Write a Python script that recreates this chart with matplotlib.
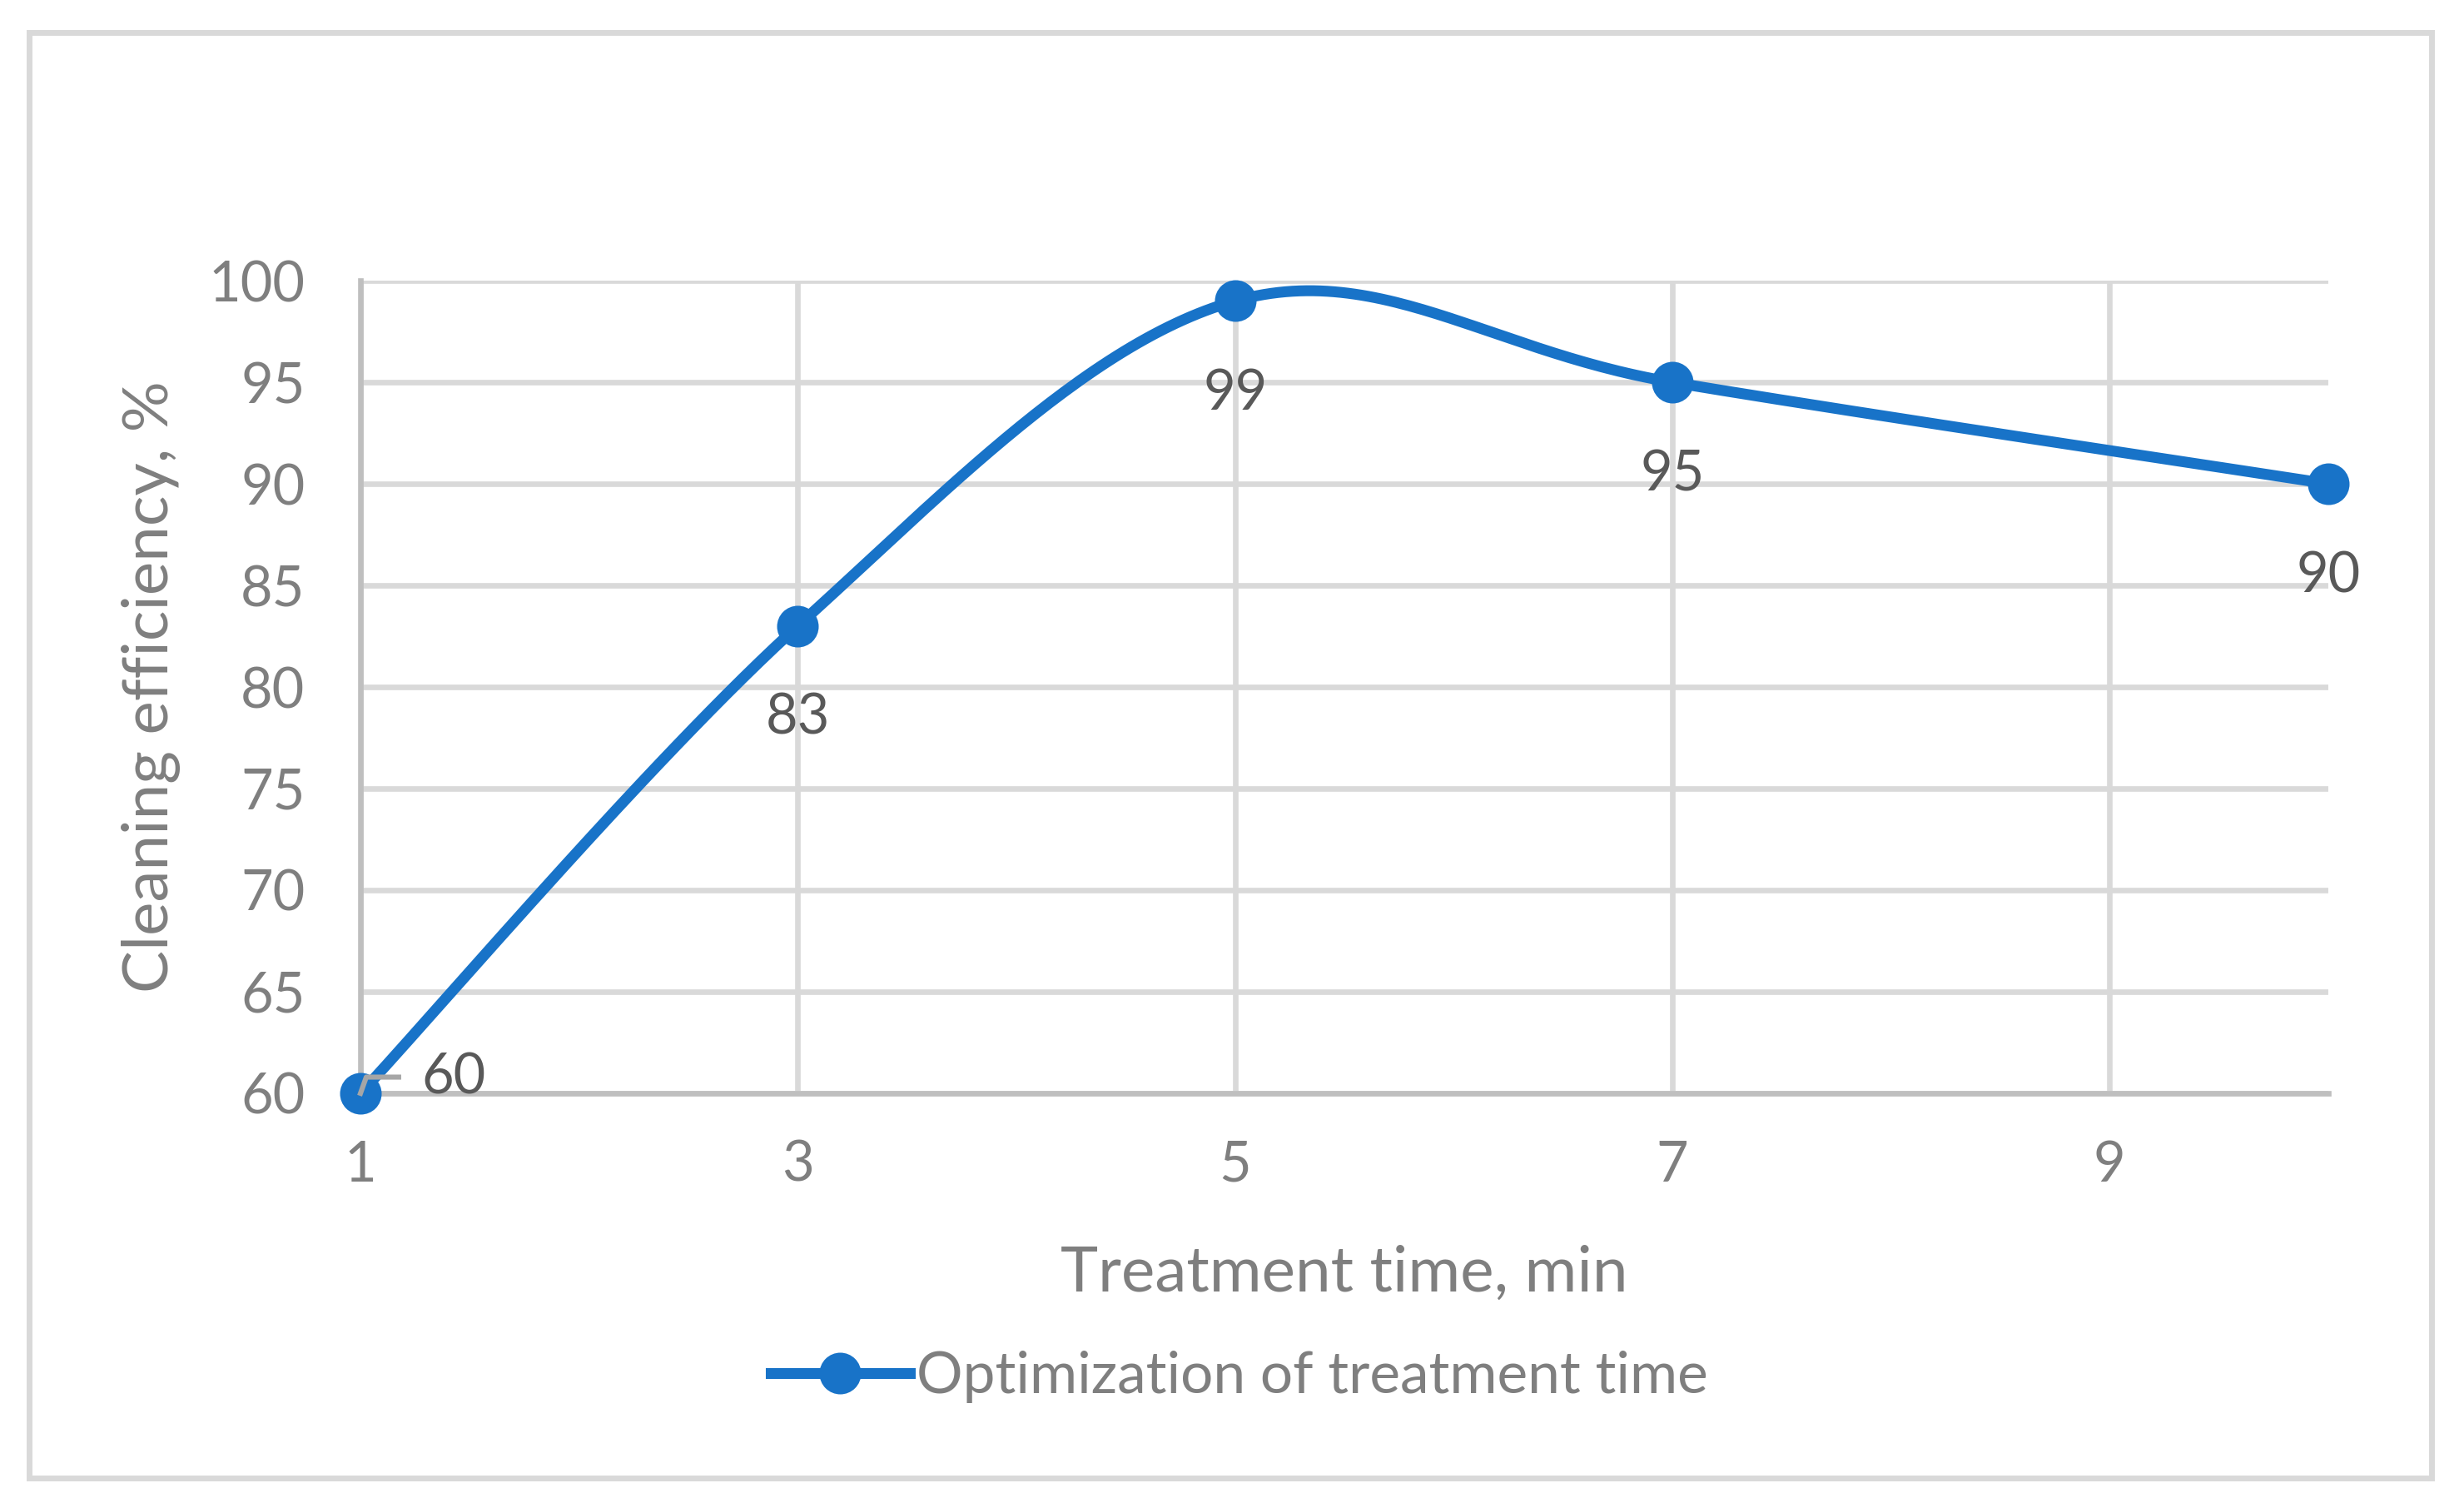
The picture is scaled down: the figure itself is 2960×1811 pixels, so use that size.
import numpy as np
import matplotlib
matplotlib.use("Agg")
import matplotlib.pyplot as plt
from matplotlib.patches import Rectangle
from matplotlib.lines import Line2D
import matplotlib.transforms as mtransforms

plt.rcParams['font.family'] = ['Lato', 'DejaVu Sans']

# ---- data ----
time_min = [1, 3, 5, 7, 10]
efficiency = [60, 83, 99, 95, 90]
x_ticks = [1, 3, 5, 7, 9]
y_ticks = [60, 65, 70, 75, 80, 85, 90, 95, 100]
series_name = "Optimization of treatment time"
x_title = "Treatment time, min"
y_title = "Cleaning efficiency, %"

BLUE = "#1873C8"
GRID = "#d9d9d9"
AXIS = "#bfbfbf"
TXT = "#7f7f7f"
LBL = "#595959"

def smooth_curve(xs, ys, per_seg=60):
    P = np.column_stack([xs, ys]).astype(float)
    n = len(P)
    out = []
    for i in range(n - 1):
        prev = P[i - 1] if i > 0 else P[i]
        nxt = P[i + 2] if i + 2 < n else P[i + 1]
        c1 = P[i] + (P[i + 1] - prev) / 6.0
        c2 = P[i + 1] - (nxt - P[i]) / 6.0
        t = np.linspace(0, 1, per_seg)[:, None]
        seg = ((1 - t) ** 3) * P[i] + 3 * t * (1 - t) ** 2 * c1 + 3 * t ** 2 * (1 - t) * c2 + t ** 3 * P[i + 1]
        out.append(seg if i == 0 else seg[1:])
    c = np.vstack(out)
    return c[:, 0], c[:, 1]

fig = plt.figure(figsize=(14.8, 9.055), dpi=200)
ax = fig.add_axes([0.1463, 0.2750, 0.9449 - 0.1463, 0.8139 - 0.2750])

ax.set_xlim(1, 10)
ax.set_ylim(60, 100)
ax.set_xticks(x_ticks)
ax.set_yticks(y_ticks)
ax.tick_params(axis='both', length=0, labelsize=24, labelcolor=TXT)
ax.tick_params(axis='x', pad=20)
ax.tick_params(axis='y', pad=24)
ax.grid(True, color=GRID, linewidth=2.4)
ax.set_axisbelow(True)
for s in ['top', 'right']:
    ax.spines[s].set_visible(False)
for s in ['left', 'bottom']:
    ax.spines[s].set_color(AXIS)
    ax.spines[s].set_linewidth(2.4)

sx, sy = smooth_curve(time_min, efficiency)
ax.plot(sx, sy, color=BLUE, linewidth=4.7, solid_capstyle='round', zorder=3, clip_on=False)
ax.plot(time_min, efficiency, linestyle='none', marker='o', markersize=17,
        color=BLUE, zorder=4, clip_on=False)

# data labels
for i, (x, y) in enumerate(zip(time_min, efficiency)):
    if i == 0:
        ax.annotate(str(y), (x, y), xytext=(26.5, 6.5), textcoords='offset points',
                    ha='left', va='center', fontsize=24, color=LBL, zorder=5)
        base = ax.transData
        pts = [(0, 0), (2.5, 7), (16.5, 7)]
        lx, ly = [], []
        for dx, dy in pts:
            t = mtransforms.offset_copy(base, fig=fig, x=dx, y=dy, units='points')
            px, py = t.transform((x, y))
            lx.append(px); ly.append(py)
        fig.add_artist(Line2D(lx, ly, transform=None, color="#a6a6a6", linewidth=2.2, zorder=6))
    else:
        ax.annotate(str(y), (x, y), xytext=(0, -40), textcoords='offset points',
                    ha='center', va='center', fontsize=24, color=LBL, zorder=5)

ax.set_xlabel(x_title, fontsize=27.5, color=TXT, labelpad=23)
ax.set_ylabel(y_title, fontsize=27.5, color=TXT, labelpad=12)

handle = Line2D([], [], color=BLUE, linewidth=4.7, marker='o', markersize=17)
fig.legend([handle], [series_name], loc='center', bbox_to_anchor=(0.503, 0.0867),
           frameon=False, fontsize=25, labelcolor=TXT, handlelength=2.4,
           handletextpad=0.12)

fig.add_artist(Rectangle((0.0117, 0.02015), 0.98699 - 0.0117, 0.9787 - 0.02015,
                         transform=fig.transFigure, fill=False, edgecolor=GRID,
                         linewidth=2.5))

fig.savefig("out.png", dpi=200, facecolor='white')
